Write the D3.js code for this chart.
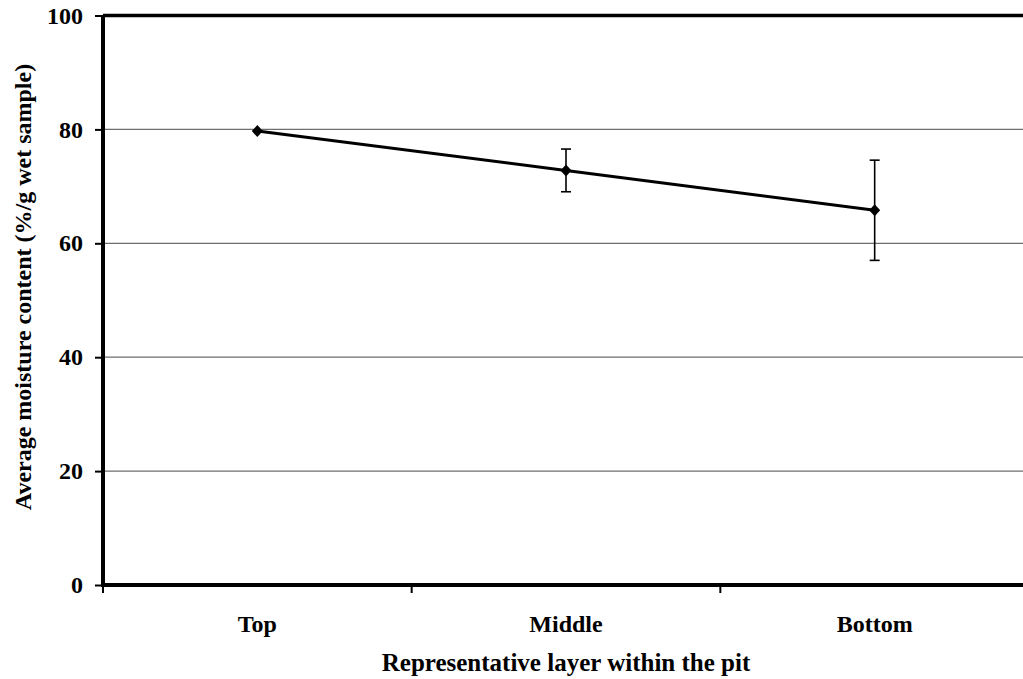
<!DOCTYPE html>
<html><head><meta charset="utf-8">
<script src="https://cdn.jsdelivr.net/npm/d3@7"></script>
<style>html,body{margin:0;padding:0;background:#fff;overflow:hidden}</style>
</head><body>
<svg id="chart" width="1023" height="679"></svg>
<script>
const categories = ["Top", "Middle", "Bottom"];
const values = [79.7, 72.8, 65.8];
const errors = [0, 3.75, 8.8];
const yTicks = [0, 20, 40, 60, 80, 100];
const xTitle = "Representative layer within the pit";
const yTitle = "Average moisture content (%/g wet sample)";

(function () {
const svg = d3.select("#chart");
const pL = 103, pR = 1029, pT = 15.5, pB = 585;
const font = "'Liberation Serif','Times New Roman',serif";

const x = d3.scaleBand().domain(categories).range([pL, pR]);
const y = d3.scaleLinear().domain([0, 100]).range([pB, pT]);

// gridlines
svg.append("g").selectAll("line").data(yTicks.filter(d => d > 0 && d < 100)).join("line")
  .attr("x1", pL).attr("x2", pR).attr("y1", d => y(d)).attr("y2", d => y(d))
  .attr("stroke", "#6e6e6e").attr("stroke-width", 1.2);

// top border
svg.append("line").attr("x1", pL).attr("x2", pR).attr("y1", pT).attr("y2", pT)
  .attr("stroke", "#000").attr("stroke-width", 3.5);

// y axis
const yAxis = svg.append("g").attr("transform", `translate(${pL},0)`)
  .call(d3.axisLeft(y).tickValues(yTicks).tickSize(8).tickPadding(12).tickFormat(d3.format("d")));
yAxis.select(".domain").attr("stroke-width", 4).attr("d", `M0,${pT}V${pB + 2}`);
yAxis.selectAll(".tick line").attr("stroke-width", 2);
yAxis.selectAll("text").attr("font-family", font).attr("font-weight", "bold").attr("font-size", 24).attr("fill", "#000");

// x axis
const tickPos = categories.map(c => x(c)).concat([pR]);
const xAxis = svg.append("g").attr("transform", `translate(0,${pB})`);
xAxis.append("line").attr("x1", pL - 2).attr("x2", pR).attr("y1", 0).attr("y2", 0)
  .attr("stroke", "#000").attr("stroke-width", 4);
xAxis.selectAll("line.tk").data(tickPos).join("line").attr("class", "tk")
  .attr("x1", d => d).attr("x2", d => d).attr("y1", 0).attr("y2", 8)
  .attr("stroke", "#000").attr("stroke-width", 2);
xAxis.selectAll("text").data(categories).join("text")
  .attr("x", d => x(d) + x.bandwidth() / 2).attr("y", 47)
  .attr("text-anchor", "middle").attr("font-family", font).attr("font-weight", "bold")
  .attr("font-size", 24).attr("fill", "#000").text(d => d);

// titles
svg.append("text").attr("x", (pL + pR) / 2).attr("y", 671)
  .attr("text-anchor", "middle").attr("font-family", font).attr("font-weight", "bold")
  .attr("font-size", 25).text(xTitle);
svg.append("text").attr("transform", `translate(31,287) rotate(-90)`)
  .attr("text-anchor", "middle").attr("font-family", font).attr("font-weight", "bold")
  .attr("font-size", 24).text(yTitle);

const cx = d => x(d) + x.bandwidth() / 2;
const pts = categories.map((c, i) => ({ c, v: values[i], e: errors[i] }));

// error bars
const eb = svg.append("g").selectAll("g").data(pts.filter(p => p.e > 0)).join("g");
eb.append("line").attr("x1", d => cx(d.c)).attr("x2", d => cx(d.c))
  .attr("y1", d => y(d.v + d.e)).attr("y2", d => y(d.v - d.e)).attr("stroke", "#000").attr("stroke-width", 1.6);
eb.append("line").attr("x1", d => cx(d.c) - 5).attr("x2", d => cx(d.c) + 5)
  .attr("y1", d => y(d.v + d.e)).attr("y2", d => y(d.v + d.e)).attr("stroke", "#000").attr("stroke-width", 1.6);
eb.append("line").attr("x1", d => cx(d.c) - 5).attr("x2", d => cx(d.c) + 5)
  .attr("y1", d => y(d.v - d.e)).attr("y2", d => y(d.v - d.e)).attr("stroke", "#000").attr("stroke-width", 1.6);

// line
svg.append("path").datum(pts)
  .attr("d", d3.line().x(d => cx(d.c)).y(d => y(d.v)))
  .attr("fill", "none").attr("stroke", "#000").attr("stroke-width", 3);

// markers
svg.append("g").selectAll("path").data(pts).join("path")
  .attr("transform", d => `translate(${cx(d.c)},${y(d.v)})`)
  .attr("d", "M0,-6L5.5,0L0,6L-5.5,0Z").attr("fill", "#000");
})();
</script>
</body></html>
